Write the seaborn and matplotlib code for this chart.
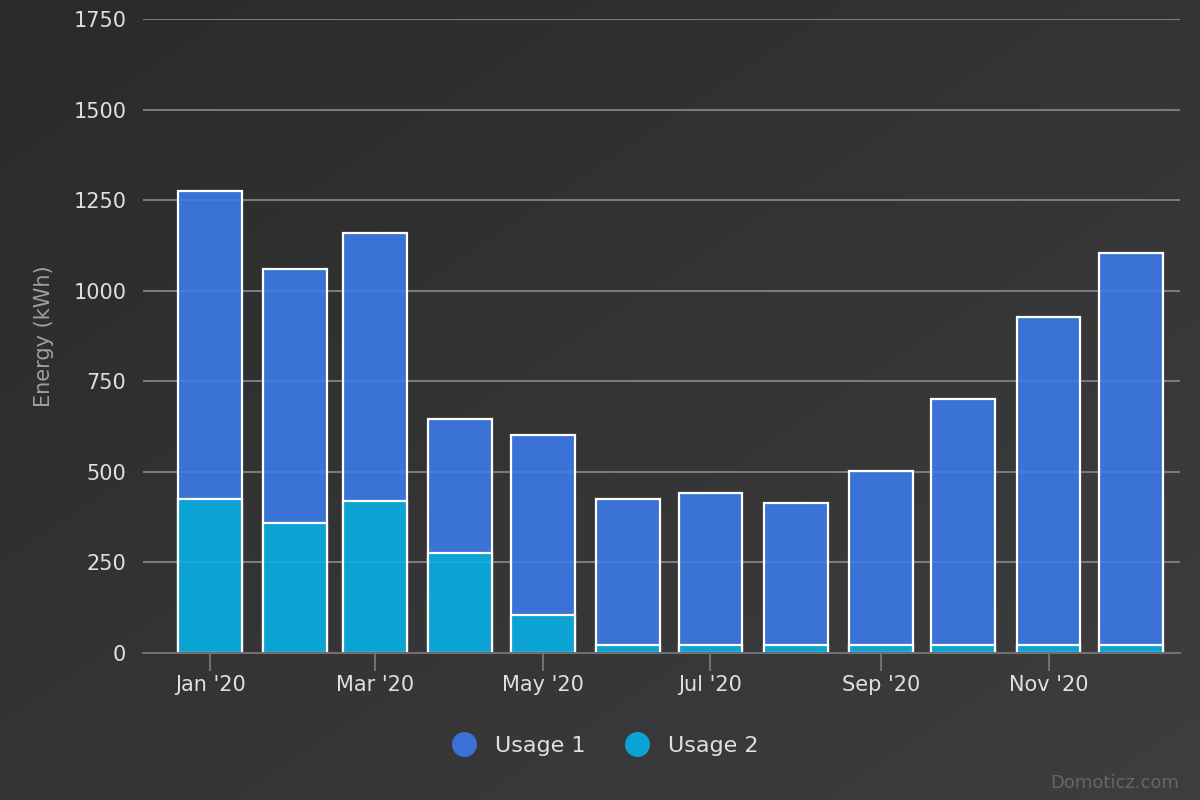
import numpy as np
import pandas as pd
import matplotlib
matplotlib.use('Agg')
import matplotlib.pyplot as plt
import matplotlib.dates as mdates
from matplotlib.lines import Line2D
import seaborn as sns

# Monthly energy usage
months = pd.date_range('2020-01-01', periods=12, freq='MS')
usage2 = [425, 359, 420, 276, 105, 22, 22, 22, 22, 22, 22, 22]
usage1 = [850, 701, 739, 370, 497, 403, 420, 392, 480, 679, 905, 1082]
y_ticks = [0, 250, 500, 750, 1000, 1250, 1500, 1750]
x_tick_months = ['2020-01-01', '2020-03-01', '2020-05-01', '2020-07-01', '2020-09-01', '2020-11-01']

blue = '#3a72d6'
cyan = '#0ba2d4'
grid_col = '#707073'
text_col = '#e0e0e3'

sns.set_theme(style='dark')
plt.rcParams['font.family'] = ['DejaVu Sans']

df = pd.DataFrame({'month': mdates.date2num(months),
                   'usage1': usage1, 'usage2': usage2})
df['total'] = df['usage1'] + df['usage2']

fig = plt.figure(figsize=(12, 8), dpi=100)

# diagonal gradient background
bg = fig.add_axes([0, 0, 1, 1], zorder=-10)
gx, gy = np.meshgrid(np.linspace(0, 1, 300), np.linspace(0, 1, 200))
grad = (gx + gy) / 2
cmap = matplotlib.colors.LinearSegmentedColormap.from_list('bg', ['#2a2a2b', '#3e3e40'])
bg.imshow(grad, cmap=cmap, aspect='auto', extent=[0, 1, 1, 0])
bg.axis('off')

ax = fig.add_axes([0.1192, 0.18375, 0.8641, 0.7925])
ax.patch.set_alpha(0)

for y in y_ticks[1:]:
    ax.axhline(y, color=grid_col, lw=1.5, zorder=0)

sns.barplot(data=df, x='month', y='total', native_scale=True, width=0.8,
            color=blue, saturation=1, edgecolor='white', linewidth=1.6,
            ax=ax, zorder=2)
sns.barplot(data=df, x='month', y='usage2', native_scale=True, width=0.8,
            color=cyan, saturation=1, edgecolor='white', linewidth=1.6,
            ax=ax, zorder=3)

# faint grid showing through the bars
for y in y_ticks[1:]:
    ax.axhline(y, color='white', lw=1.5, alpha=0.07, zorder=4)

start = mdates.date2num(pd.Timestamp('2020-01-01'))
ax.set_xlim(start - 24.4, start + 335 + 17.8)
ax.set_ylim(0, 1750)
ax.set_yticks(y_ticks)
ax.set_yticklabels([str(v) for v in y_ticks])
ax.set_xticks(mdates.date2num(pd.to_datetime(x_tick_months)))
ax.xaxis.set_major_formatter(mdates.DateFormatter("%b '%y"))

ax.tick_params(axis='y', length=0, pad=12, labelsize=15, labelcolor=text_col)
ax.tick_params(axis='x', length=13, width=1.5, color=grid_col, pad=3,
               labelsize=15, labelcolor=text_col, bottom=True)
ax.set_xlabel('')
ax.set_ylabel('Energy (kWh)', color='#a0a0a3', fontsize=15, labelpad=14)

for side in ['top', 'right', 'left']:
    ax.spines[side].set_visible(False)
ax.spines['bottom'].set_color(grid_col)
ax.spines['bottom'].set_linewidth(1.5)
ax.spines['bottom'].set_zorder(5)

handles = [Line2D([], [], marker='o', ls='', markersize=17, color=blue, label='Usage 1'),
           Line2D([], [], marker='o', ls='', markersize=17, color=cyan, label='Usage 2')]
fig.legend(handles=handles, loc='center', bbox_to_anchor=(0.5, 0.0675), ncol=2,
           frameon=False, fontsize=16, labelcolor=text_col, handletextpad=0.4,
           columnspacing=1.3)

fig.text(0.983, 0.021, 'Domoticz.com', ha='right', va='center', color='#666666', fontsize=13)

fig.savefig('out.png', dpi=100)
